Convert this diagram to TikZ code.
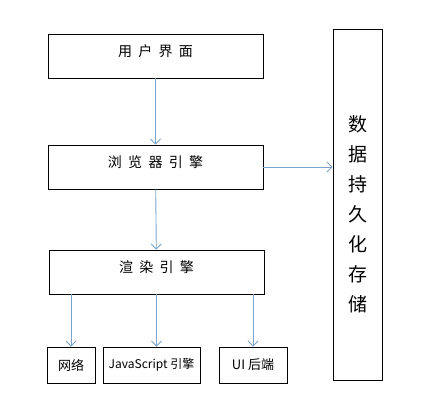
\documentclass[tikz,border=0pt]{standalone}
\usepackage{fontspec}
\setmainfont{Noto Sans CJK SC}
\usetikzlibrary{arrows.meta, positioning}
\definecolor{linkblue}{RGB}{122,164,206}
\tikzset{>={Straight Barb[length=5pt,width=10pt]}}
\tikzset{
	layer/.style={draw, line width=0.9pt, minimum width=215pt, minimum height=44pt, text height=8pt, text depth=8pt, font=\fontsize{14}{16}\selectfont},
	part/.style={draw, line width=0.9pt, minimum height=36pt, inner sep=0pt, font=\fontsize{13}{15}\selectfont},
	link/.style={->, linkblue, line width=0.9pt}
}

\begin{document}
\begin{tikzpicture}[x=1pt, y=-1pt]
	\useasboundingbox (0,0) rectangle (430,416);
	\node[layer] (ui) at (155.5,56) {用\ \ 户\ \ 界\ \ 面};
	\node[layer] (browser) at (155.5,167) {浏\ \ 览\ \ 器\ \ 引\ \ 擎};
	\node[layer] (render) at (156.5,272) {渲\ \ 染\ \ 引\ \ 擎};
	\node[part, minimum width=48pt] (net) at (71,365) {网络};
	\node[part, minimum width=97pt, font=\fontsize{12}{14}\selectfont] (js) at (151.5,365) {JavaScript 引擎};
	\node[part, minimum width=68pt] (uib) at (253,365) {UI 后端};
	\node[draw, line width=0.9pt, minimum width=49pt, minimum height=351pt,
		label={[font=\fontsize{19}{30}\selectfont, align=center, yshift=-10pt]center:数\\据\\持\\久\\化\\存\\储}]
		(store) at (357.5,204.5) {};
	\draw [link] (ui) -- (browser);
	\draw [link] (browser) -- (render);
	\draw [link] (browser.east) -- (browser.east -| store.west);
	\draw [link] (net.north |- render.south) -- (net.north);
	\draw [link] (render.south) -- (render.south |- js.north);
	\draw [link] (uib.north |- render.south) -- (uib.north);
\end{tikzpicture}
\end{document}
